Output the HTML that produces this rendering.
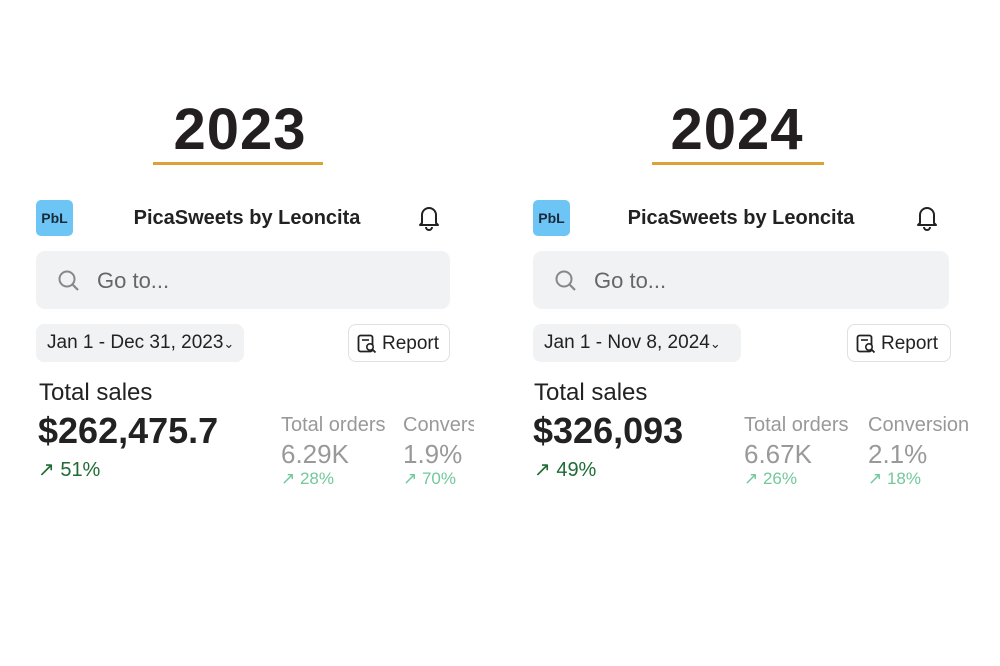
<!DOCTYPE html>
<html><head><style>
body{margin:0;width:1000px;height:666px;background:#fff;position:relative;overflow:hidden;font-family:"Liberation Sans",sans-serif;color:#222}
.a{position:absolute;white-space:nowrap}
.yr{font-size:58px;font-weight:bold;color:#231f20;top:96px;width:200px;text-align:center;letter-spacing:1px}
.ul{height:3px;background:#dba235;top:162px}
.logo{width:37px;height:36px;background:#6cc5f5;border-radius:5px;top:200px;font-size:14px;font-weight:bold;line-height:36px;text-align:center;color:#1a2a3a}
.ttl{font-size:20px;font-weight:bold;color:#222;top:207px;width:300px;text-align:center}
.srch{top:251px;height:58px;background:#f1f2f3;border-radius:9px}
.go{font-size:22px;color:#666;top:268px}
.pill{top:324px;height:38px;background:#f1f2f3;border-radius:8px;font-size:19px;line-height:38px;padding-left:11px;box-sizing:border-box;color:#222}
.rep{top:324px;height:38px;border:1px solid #e0e0e0;border-radius:8px;font-size:19px;line-height:38px;box-sizing:border-box;padding-left:33px;color:#222}
.ts{font-size:24px;top:379px;color:#222}
.big{font-size:36px;font-weight:bold;top:410px;color:#222}
.gr{font-size:20px;color:#1e6b35;top:457px}
.lb{font-size:20px;color:#999;top:414px}
.val{font-size:26px;color:#999;top:439px}
.lg{font-size:17px;color:#72c79b;top:469px}
</style></head><body>
<div class="a yr" style="left:140px">2023</div>
<div class="a ul" style="left:153px;width:170px"></div>
<div class="a yr" style="left:637px">2024</div>
<div class="a ul" style="left:652px;width:172px"></div>

<!-- left -->
<div class="a logo" style="left:36px">PbL</div>
<div class="a ttl" style="left:97px">PicaSweets by Leoncita</div>
<svg class="a" style="left:417px;top:204px" width="24" height="28" viewBox="0 0 24 28"><path d="M5 19V11a7 7 0 0 1 14 0v8l2 2H3z" fill="none" stroke="#222" stroke-width="2" stroke-linejoin="round"/><path d="M9 23a3 3 0 0 0 6 0" fill="none" stroke="#222" stroke-width="2"/></svg>
<div class="a srch" style="left:36px;width:414px"></div>
<svg class="a" style="left:57px;top:269px" width="24" height="24"><circle cx="10" cy="10" r="7.5" fill="none" stroke="#888" stroke-width="2"/><line x1="15.5" y1="15.5" x2="21" y2="21" stroke="#888" stroke-width="2.2"/></svg>
<div class="a go" style="left:97px">Go to...</div>
<div class="a pill" style="left:36px;width:208px">Jan 1 - Dec 31, 2023<span style="font-size:13px">&#8964;</span></div>
<div class="a rep" style="left:348px;width:102px">Report</div>
<svg class="a" style="left:357px;top:334px" width="20" height="20"><rect x="1.5" y="1.5" width="14" height="16" rx="2" fill="none" stroke="#222" stroke-width="1.8"/><line x1="5" y1="6" x2="12" y2="6" stroke="#222" stroke-width="1.6"/><circle cx="13" cy="13" r="3.2" fill="#fff" stroke="#222" stroke-width="1.6"/><line x1="15.3" y1="15.3" x2="18.5" y2="18.5" stroke="#222" stroke-width="1.8"/></svg>
<div class="a ts" style="left:39px">Total sales</div>
<div class="a big" style="left:38px">$262,475.7</div>
<div class="a gr" style="left:38px">↗ 51%</div>
<div class="a" style="left:281px;top:400px;width:193px;height:100px;overflow:hidden">
<div class="a lb" style="left:0;top:14px">Total orders</div>
<div class="a val" style="left:0;top:39px">6.29K</div>
<div class="a lg" style="left:0;top:69px">↗ 28%</div>
<div class="a lb" style="left:122px;top:14px">Conversion</div>
<div class="a val" style="left:122px;top:39px">1.9%</div>
<div class="a lg" style="left:122px;top:69px">↗ 70%</div>
</div>

<!-- right -->
<div class="a logo" style="left:533px">PbL</div>
<div class="a ttl" style="left:591px">PicaSweets by Leoncita</div>
<svg class="a" style="left:915px;top:204px" width="24" height="28" viewBox="0 0 24 28"><path d="M5 19V11a7 7 0 0 1 14 0v8l2 2H3z" fill="none" stroke="#222" stroke-width="2" stroke-linejoin="round"/><path d="M9 23a3 3 0 0 0 6 0" fill="none" stroke="#222" stroke-width="2"/></svg>
<div class="a srch" style="left:533px;width:416px"></div>
<svg class="a" style="left:554px;top:269px" width="24" height="24"><circle cx="10" cy="10" r="7.5" fill="none" stroke="#888" stroke-width="2"/><line x1="15.5" y1="15.5" x2="21" y2="21" stroke="#888" stroke-width="2.2"/></svg>
<div class="a go" style="left:594px">Go to...</div>
<div class="a pill" style="left:533px;width:208px">Jan 1 - Nov 8, 2024<span style="font-size:13px">&#8964;</span></div>
<div class="a rep" style="left:847px;width:104px">Report</div>
<svg class="a" style="left:856px;top:334px" width="20" height="20"><rect x="1.5" y="1.5" width="14" height="16" rx="2" fill="none" stroke="#222" stroke-width="1.8"/><line x1="5" y1="6" x2="12" y2="6" stroke="#222" stroke-width="1.6"/><circle cx="13" cy="13" r="3.2" fill="#fff" stroke="#222" stroke-width="1.6"/><line x1="15.3" y1="15.3" x2="18.5" y2="18.5" stroke="#222" stroke-width="1.8"/></svg>
<div class="a ts" style="left:534px">Total sales</div>
<div class="a big" style="left:533px">$326,093</div>
<div class="a gr" style="left:534px">↗ 49%</div>
<div class="a lb" style="left:744px">Total orders</div>
<div class="a val" style="left:744px">6.67K</div>
<div class="a lg" style="left:744px">↗ 26%</div>
<div class="a lb" style="left:868px">Conversion</div>
<div class="a val" style="left:868px">2.1%</div>
<div class="a lg" style="left:868px">↗ 18%</div>
</body></html>
